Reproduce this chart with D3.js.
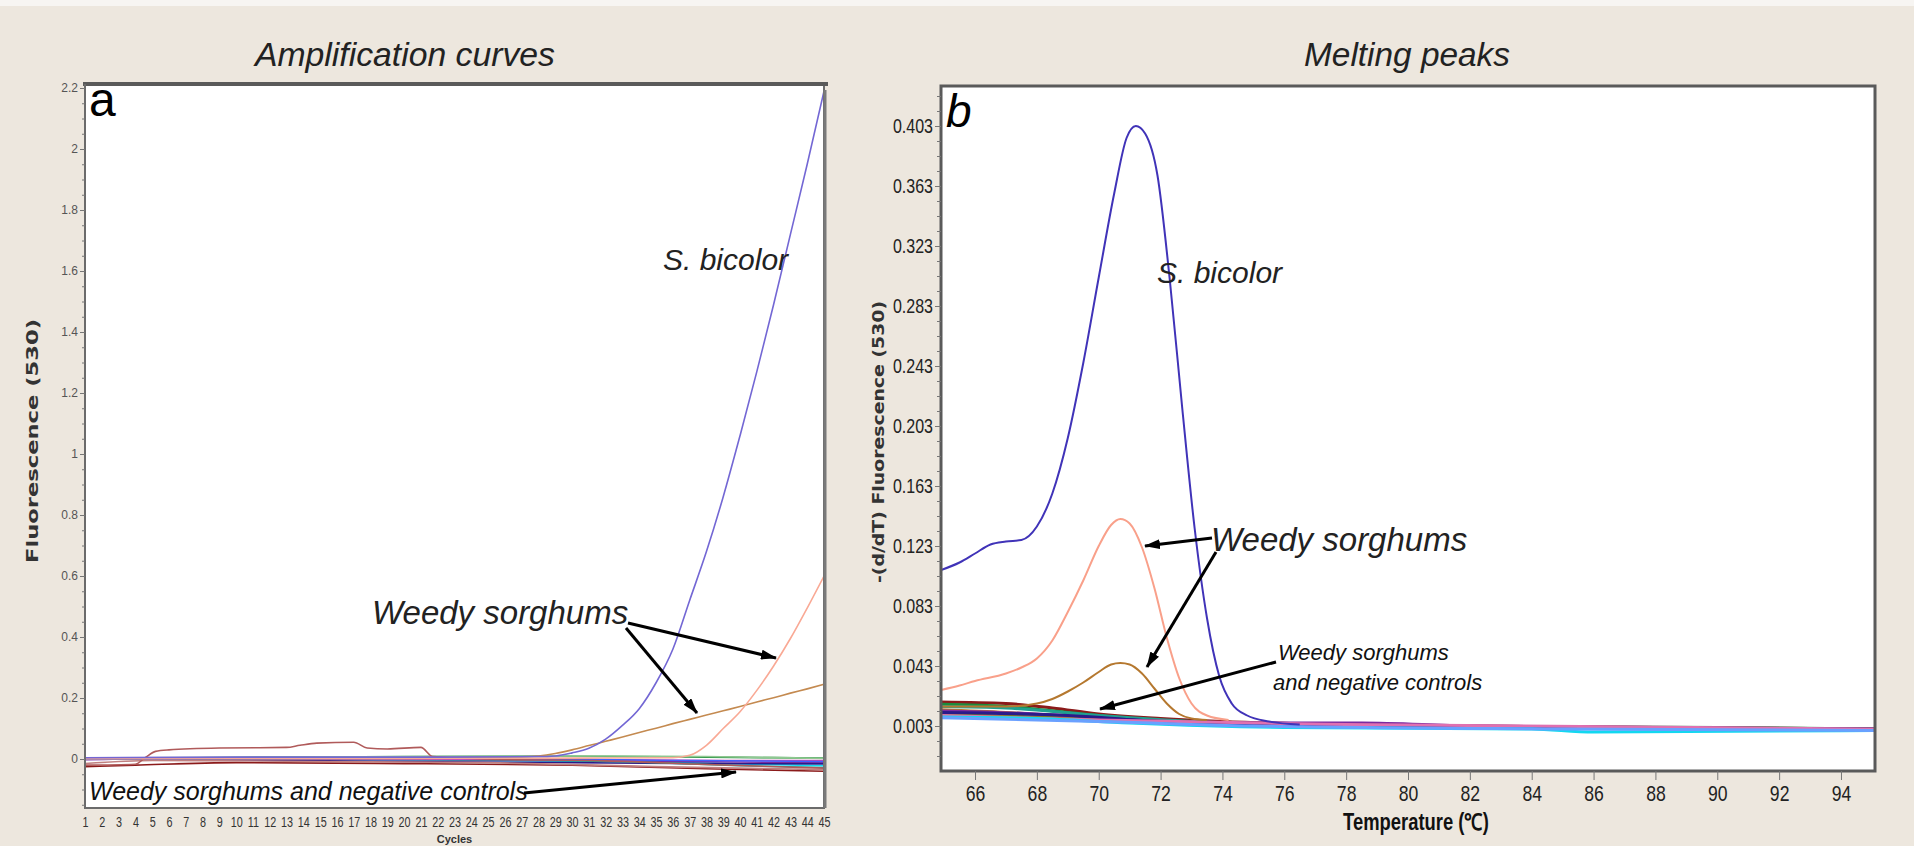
<!DOCTYPE html>
<html>
<head>
<meta charset="utf-8">
<script src="https://cdn.jsdelivr.net/npm/d3@7"></script>
<style>
  body { margin: 0; background: #ede7de; }
  svg { display: block; }
</style>
</head>
<body>
<div id="chart"></div>
<script>
// ---- data ----
const cycleTicks = [1,2,3,4,5,6,7,8,9,10,11,12,13,14,15,16,17,18,19,20,21,22,23,24,25,26,27,28,29,30,31,32,33,34,35,36,37,38,39,40,41,42,43,44,45];
const ampTicks = [0, 0.2, 0.4, 0.6, 0.8, 1, 1.2, 1.4, 1.6, 1.8, 2, 2.2];
const tempTicks = [66, 68, 70, 72, 74, 76, 78, 80, 82, 84, 86, 88, 90, 92, 94];
const meltTicks = [0.003, 0.043, 0.083, 0.123, 0.163, 0.203, 0.243, 0.283, 0.323, 0.363, 0.403];

// amplification curves: [cycle, fluorescence]
const ampBicolor = [[1,0.004],[10,0.006],[20,0.006],[28,0.008],[29,0.01],[30,0.02],[31,0.035],[32,0.065],[33,0.11],[34,0.165],[35,0.25],[36,0.36],[37,0.52],[38,0.68],[39,0.86],[40,1.06],[41,1.27],[42,1.49],[43,1.72],[44,1.95],[45,2.19]];
const ampWeedyPink = [[1,0.001],[20,0.002],[30,0.003],[36,0.004],[37,0.012],[38,0.045],[39,0.1],[40,0.155],[41,0.225],[42,0.305],[43,0.395],[44,0.495],[45,0.6]];
const ampWeedyBrown = [[1,0.002],[20,0.004],[27,0.007],[28,0.01],[29,0.018],[30,0.03],[31,0.044],[32,0.058],[33,0.072],[34,0.087],[35,0.101],[36,0.116],[37,0.13],[38,0.144],[39,0.158],[40,0.172],[41,0.187],[42,0.201],[43,0.216],[44,0.23],[45,0.245]];
const ampBump = [[1,-0.02],[4,-0.017],[4.6,0.005],[5.2,0.025],[6,0.03],[9,0.036],[13,0.038],[13.8,0.045],[14.8,0.052],[17,0.055],[17.8,0.036],[19,0.033],[21,0.038],[21.7,0.008],[25,0.0],[32,-0.006],[38,-0.018],[45,-0.03]];
const ampNegatives = [
  { color: "#1c8c3c", pts: [[1,0.002],[10,0.005],[20,0.008],[30,0.009],[38,0.006],[45,0.003]] },
  { color: "#12d8f0", pts: [[1,0.004],[4,0.004],[12,0.0],[25,-0.005],[35,-0.01],[45,-0.022]] },
  { color: "#7a2aa0", pts: [[1,-0.002],[8,0.003],[20,-0.002],[30,-0.005],[40,-0.01],[45,-0.012]] },
  { color: "#2a1a8a", pts: [[1,0.0],[10,-0.003],[20,-0.008],[30,-0.012],[38,-0.015],[45,-0.016]] },
  { color: "#20a090", pts: [[1,0.001],[15,0.0],[28,-0.004],[35,-0.012],[40,-0.022],[45,-0.028]] },
  { color: "#8b1a1a", pts: [[1,-0.025],[4,-0.02],[10,-0.012],[20,-0.015],[30,-0.02],[38,-0.032],[45,-0.04]] },
  { color: "#c08080", pts: [[1,-0.015],[5,-0.005],[15,-0.008],[25,-0.012],[35,-0.025],[45,-0.035]] },
  { color: "#d040b0", pts: [[1,0.002],[20,0.0],[33,-0.003],[40,-0.005],[45,-0.005]] },
  { color: "#90c890", pts: [[1,0.003],[15,0.007],[25,0.008],[32,0.01],[38,0.008],[45,0.002]] },
  { color: "#4060ff", pts: [[1,0.0],[12,0.004],[25,0.002],[35,-0.004],[45,-0.008]] }
];

// melting peaks: [temperature, -(d/dT) fluorescence]
const meltBicolor = [[64.9,0.107],[65.5,0.112],[66,0.118],[66.5,0.124],[67,0.126],[67.5,0.127],[68,0.136],[68.5,0.158],[69,0.195],[69.5,0.245],[70,0.302],[70.5,0.358],[70.9,0.395],[71.2,0.403],[71.5,0.398],[71.9,0.37],[72.3,0.30],[72.7,0.215],[73.1,0.135],[73.5,0.075],[73.9,0.036],[74.3,0.018],[74.8,0.01],[75.5,0.006],[76.5,0.004]];
const meltWeedyPink = [[64.9,0.027],[65.5,0.03],[66,0.033],[67,0.038],[67.5,0.042],[68,0.048],[68.5,0.06],[69,0.079],[69.5,0.1],[70,0.123],[70.4,0.137],[70.7,0.141],[71,0.138],[71.4,0.122],[71.8,0.095],[72.2,0.062],[72.6,0.035],[73,0.018],[73.5,0.01],[74.2,0.007]];
const meltWeedyBrown = [[64.9,0.016],[66,0.016],[67,0.016],[68,0.018],[68.5,0.021],[69,0.026],[69.5,0.032],[70,0.039],[70.4,0.044],[70.7,0.045],[71,0.044],[71.4,0.038],[71.8,0.028],[72.2,0.018],[72.6,0.011],[73,0.008],[73.5,0.007]];
const meltNegatives = [
  { color: "#8b1a1a", pts: [[64.9,0.019],[67,0.018],[68.5,0.015],[70,0.011],[72,0.008],[74,0.006],[78,0.004],[82,0.003],[88,0.002],[95.1,0.001]] },
  { color: "#1c8c3c", pts: [[64.9,0.0175],[67,0.016],[69,0.012],[71,0.008],[74,0.005],[80,0.003],[90,0.002],[95.1,0.001]] },
  { color: "#20a090", pts: [[64.9,0.016],[67,0.015],[70,0.01],[73,0.006],[77,0.004],[85,0.002],[95.1,0.001]] },
  { color: "#b8782a", pts: [[64.9,0.0138],[67,0.012],[70,0.008],[73,0.005],[80,0.003],[95.1,0.001]] },
  { color: "#7a2aa0", pts: [[64.9,0.013],[68,0.011],[71,0.007],[75,0.005],[78.5,0.005],[82,0.003],[95.1,0.001]] },
  { color: "#808020", pts: [[64.9,0.011],[68,0.009],[72,0.006],[76,0.004],[84,0.002],[95.1,0.001]] },
  { color: "#2a1a8a", pts: [[64.9,0.012],[69,0.01],[72,0.006],[77,0.004],[85,0.002],[95.1,0.001]] },
  { color: "#e070b0", pts: [[64.9,0.01],[70,0.007],[78,0.004],[95.1,0.001]] },
  { color: "#12d8f0", pts: [[64.9,0.009],[68,0.008],[71,0.005],[76,0.002],[84,0.001],[86,-0.001],[95.1,0.0]] },
  { color: "#6aa0ff", pts: [[64.9,0.0085],[70,0.006],[75,0.003],[85,0.001],[95.1,0.0]] }
];

// ---- svg ----
const svg = d3.select("#chart").append("svg")
  .attr("width", 1914)
  .attr("height", 846);

svg.append("rect").attr("width", 1914).attr("height", 846).attr("fill", "#ede7de");
svg.append("rect").attr("width", 1914).attr("height", 6).attr("fill", "#f7f5f2");

const defs = svg.append("defs");
defs.append("marker")
  .attr("id", "arrow")
  .attr("viewBox", "0 0 16 10")
  .attr("refX", 15).attr("refY", 5)
  .attr("markerWidth", 16).attr("markerHeight", 10)
  .attr("markerUnits", "userSpaceOnUse")
  .attr("orient", "auto")
  .append("path")
  .attr("d", "M0,0 L16,5 L0,10 Z")
  .attr("fill", "#000");

const sans = "'Liberation Sans', Arial, sans-serif";
const wide = "'DejaVu Sans', Verdana, sans-serif";

// squeeze text horizontally to look like a narrow face
function squeeze(sel, k) {
  sel.each(function () {
    const w = this.getComputedTextLength();
    d3.select(this).attr("textLength", w * k).attr("lengthAdjust", "spacingAndGlyphs");
  });
}

// ========== panel a: amplification curves ==========
const A = { left: 85, right: 824, top: 84, bottom: 808 };
const xA = d3.scaleLinear().domain([1, 45]).range([A.left, A.right]);
const yA = d3.scaleLinear().domain([0, 2.2]).range([759, 88]);

defs.append("clipPath").attr("id", "clipA").append("rect")
  .attr("x", A.left).attr("y", A.top).attr("width", A.right - A.left).attr("height", A.bottom - A.top);

svg.append("rect")
  .attr("x", A.left).attr("y", A.top)
  .attr("width", A.right - A.left).attr("height", A.bottom - A.top)
  .attr("fill", "#fff");

const lineA = d3.line().x(d => xA(d[0])).y(d => yA(d[1])).curve(d3.curveMonotoneX);
const gA = svg.append("g").attr("clip-path", "url(#clipA)");

ampNegatives.forEach(s => {
  gA.append("path").attr("d", lineA(s.pts))
    .attr("fill", "none").attr("stroke", s.color).attr("stroke-width", 1.6);
});
gA.append("path").attr("d", lineA(ampBump))
  .attr("fill", "none").attr("stroke", "#b05a5a").attr("stroke-width", 1.6);
gA.append("path").attr("d", lineA(ampWeedyBrown))
  .attr("fill", "none").attr("stroke", "#c48a50").attr("stroke-width", 1.6);
gA.append("path").attr("d", lineA(ampWeedyPink))
  .attr("fill", "none").attr("stroke", "#f9a995").attr("stroke-width", 1.6);
gA.append("path").attr("d", lineA(ampBicolor))
  .attr("fill", "none").attr("stroke", "#7367d4").attr("stroke-width", 1.6);

// frame
svg.append("rect")
  .attr("x", A.left).attr("y", A.top)
  .attr("width", A.right - A.left).attr("height", A.bottom - A.top)
  .attr("fill", "none").attr("stroke", "#6b6b6b").attr("stroke-width", 2);
svg.append("line").attr("x1", A.left - 2).attr("x2", A.right + 4).attr("y1", A.top).attr("y2", A.top)
  .attr("stroke", "#5a5a5a").attr("stroke-width", 4);
svg.append("line").attr("x1", A.right + 1).attr("x2", A.right + 1).attr("y1", A.top + 6).attr("y2", A.bottom)
  .attr("stroke", "#7a7a7a").attr("stroke-width", 3);

// y axis
const yAxisA = svg.append("g").attr("transform", `translate(${A.left},0)`)
  .call(d3.axisLeft(yA).tickValues(ampTicks).tickSize(5).tickPadding(2).tickFormat(d => String(+d.toFixed(1))));
svg.append("g").attr("transform", `translate(${A.left},0)`)
  .call(d3.axisLeft(yA).tickValues(d3.range(-0.15, 2.2, 0.05).filter(v => Math.abs(v / 0.2 - Math.round(v / 0.2)) > 0.01)).tickSize(3).tickFormat(""))
  .call(g => g.select(".domain").remove());
yAxisA.select(".domain").attr("stroke", "#6b6b6b").attr("stroke-width", 2)
  .attr("d", `M0,${A.top}V${A.bottom}`);
yAxisA.selectAll("text").attr("font-family", sans).attr("font-size", 12).attr("fill", "#555");

// x axis
const xAxisA = svg.append("g").attr("transform", `translate(0,${A.bottom})`)
  .call(d3.axisBottom(xA).tickValues(cycleTicks).tickSize(0).tickPadding(8).tickFormat(d3.format("d")));
xAxisA.select(".domain").remove();
xAxisA.selectAll("text").attr("font-family", sans).attr("font-size", 15).attr("fill", "#333")
  .call(squeeze, 0.72);

svg.append("text")
  .attr("x", (A.left + A.right) / 2).attr("y", 843)
  .attr("text-anchor", "middle")
  .attr("font-family", sans).attr("font-weight", "bold").attr("font-size", 11).attr("fill", "#333")
  .text("Cycles");

svg.append("text")
  .attr("transform", "translate(38,441) rotate(-90)")
  .attr("text-anchor", "middle")
  .attr("font-family", wide).attr("font-weight", "bold").attr("font-size", 16).attr("fill", "#333")
  .attr("textLength", 244).attr("lengthAdjust", "spacingAndGlyphs")
  .text("Fluorescence (530)");

// title and labels
svg.append("text")
  .attr("x", 405).attr("y", 66)
  .attr("text-anchor", "middle")
  .attr("font-family", sans).attr("font-style", "italic").attr("font-size", 33).attr("fill", "#222")
  .attr("textLength", 300).attr("lengthAdjust", "spacingAndGlyphs")
  .text("Amplification curves");

svg.append("text")
  .attr("x", 89).attr("y", 116)
  .attr("font-family", sans).attr("font-size", 48).attr("fill", "#000")
  .text("a");

svg.append("text")
  .attr("x", 663).attr("y", 270)
  .attr("font-family", sans).attr("font-style", "italic").attr("font-size", 30).attr("fill", "#222")
  .text("S. bicolor");

svg.append("text")
  .attr("x", 372).attr("y", 624)
  .attr("font-family", sans).attr("font-style", "italic").attr("font-size", 33).attr("fill", "#222")
  .text("Weedy sorghums");

svg.append("text")
  .attr("x", 89).attr("y", 800)
  .attr("font-family", sans).attr("font-style", "italic").attr("font-size", 25).attr("fill", "#111")
  .text("Weedy sorghums and negative controls");

// ========== panel b: melting peaks ==========
const B = { left: 941, right: 1875, top: 86, bottom: 771 };
const xB = d3.scaleLinear().domain([64.9, 95.1]).range([B.left, B.right]);
const yB = d3.scaleLinear().domain([0.003, 0.403]).range([726, 126]);

defs.append("clipPath").attr("id", "clipB").append("rect")
  .attr("x", B.left).attr("y", B.top).attr("width", B.right - B.left).attr("height", B.bottom - B.top);

svg.append("rect")
  .attr("x", B.left).attr("y", B.top)
  .attr("width", B.right - B.left).attr("height", B.bottom - B.top)
  .attr("fill", "#fff");

const lineB = d3.line().x(d => xB(d[0])).y(d => yB(d[1])).curve(d3.curveMonotoneX);
const gB = svg.append("g").attr("clip-path", "url(#clipB)");

meltNegatives.forEach(s => {
  gB.append("path").attr("d", lineB(s.pts))
    .attr("fill", "none").attr("stroke", s.color).attr("stroke-width", 3);
});
gB.append("path").attr("d", lineB(meltWeedyBrown))
  .attr("fill", "none").attr("stroke", "#b5782f").attr("stroke-width", 2);
gB.append("path").attr("d", lineB(meltWeedyPink))
  .attr("fill", "none").attr("stroke", "#f9a08a").attr("stroke-width", 2);
gB.append("path").attr("d", lineB(meltBicolor))
  .attr("fill", "none").attr("stroke", "#4033b8").attr("stroke-width", 2);

svg.append("rect")
  .attr("x", B.left).attr("y", B.top)
  .attr("width", B.right - B.left).attr("height", B.bottom - B.top)
  .attr("fill", "none").attr("stroke", "#5a5a5a").attr("stroke-width", 3);

const yAxisB = svg.append("g").attr("transform", `translate(${B.left},0)`)
  .call(d3.axisLeft(yB).tickValues(meltTicks).tickSize(6).tickPadding(2).tickFormat(d3.format(".3f")));
svg.append("g").attr("transform", `translate(${B.left},0)`)
  .call(d3.axisLeft(yB).tickValues(d3.range(-0.017, 0.43, 0.01).filter(v => Math.abs((v - 0.003) / 0.04 - Math.round((v - 0.003) / 0.04)) > 0.01)).tickSize(4).tickFormat(""))
  .call(g => g.select(".domain").remove());
yAxisB.select(".domain").remove();
yAxisB.selectAll("text").attr("font-family", sans).attr("font-size", 20).attr("fill", "#222")
  .call(squeeze, 0.8);

const xAxisB = svg.append("g").attr("transform", `translate(0,${B.bottom})`)
  .call(d3.axisBottom(xB).tickValues(tempTicks).tickSize(9).tickPadding(5).tickFormat(d3.format("d")));
xAxisB.select(".domain").remove();
xAxisB.selectAll("text").attr("font-family", sans).attr("font-size", 22).attr("fill", "#222")
  .call(squeeze, 0.8);
svg.selectAll(".tick line").attr("stroke", "#777");

svg.append("text")
  .attr("x", 1416).attr("y", 830)
  .attr("text-anchor", "middle")
  .attr("font-family", sans).attr("font-weight", "bold").attr("font-size", 23).attr("fill", "#111")
  .text("Temperature (℃)")
  .call(squeeze, 0.8);

svg.append("text")
  .attr("transform", "translate(884,442) rotate(-90)")
  .attr("text-anchor", "middle")
  .attr("font-family", wide).attr("font-weight", "bold").attr("font-size", 16).attr("fill", "#333")
  .attr("textLength", 282).attr("lengthAdjust", "spacingAndGlyphs")
  .text("-(d/dT) Fluorescence (530)");

svg.append("text")
  .attr("x", 1407).attr("y", 66)
  .attr("text-anchor", "middle")
  .attr("font-family", sans).attr("font-style", "italic").attr("font-size", 33).attr("fill", "#222")
  .attr("textLength", 206).attr("lengthAdjust", "spacingAndGlyphs")
  .text("Melting peaks");

svg.append("text")
  .attr("x", 946).attr("y", 127)
  .attr("font-family", sans).attr("font-style", "italic").attr("font-size", 46).attr("fill", "#000")
  .text("b");

svg.append("text")
  .attr("x", 1157).attr("y", 283)
  .attr("font-family", sans).attr("font-style", "italic").attr("font-size", 30).attr("fill", "#222")
  .text("S. bicolor");

svg.append("text")
  .attr("x", 1211).attr("y", 551)
  .attr("font-family", sans).attr("font-style", "italic").attr("font-size", 33).attr("fill", "#222")
  .text("Weedy sorghums");

svg.append("text")
  .attr("x", 1278).attr("y", 660)
  .attr("font-family", sans).attr("font-style", "italic").attr("font-size", 22).attr("fill", "#111")
  .text("Weedy sorghums");
svg.append("text")
  .attr("x", 1273).attr("y", 690)
  .attr("font-family", sans).attr("font-style", "italic").attr("font-size", 22).attr("fill", "#111")
  .text("and negative controls");

// annotation arrows on top of both panels
const arrows = [
  [628, 623, 776, 658],
  [626, 628, 697, 713],
  [524, 793, 736, 772],
  [1212, 538, 1145, 546],
  [1216, 552, 1147, 667],
  [1276, 662, 1100, 709]
];
svg.selectAll(".arrow").data(arrows).enter().append("line")
  .attr("class", "arrow")
  .attr("x1", d => d[0]).attr("y1", d => d[1])
  .attr("x2", d => d[2]).attr("y2", d => d[3])
  .attr("stroke", "#000").attr("stroke-width", 3)
  .attr("marker-end", "url(#arrow)");
</script>
</body>
</html>
